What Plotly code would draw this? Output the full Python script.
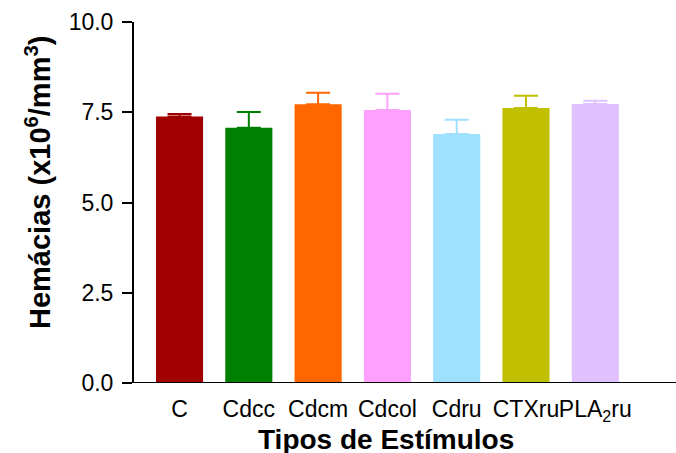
import plotly.graph_objects as go

categories = ["C", "Cdcc", "Cdcm", "Cdcol", "Cdru", "CTXru", "PLA<sub>2</sub>ru"]
means = [7.38, 7.07, 7.72, 7.56, 6.90, 7.62, 7.73]
sem = [0.07, 0.44, 0.32, 0.45, 0.39, 0.34, 0.09]
colors = ["#A00000", "#008000", "#FF6600", "#FFA0FF", "#A0E0FF", "#C0C000", "#E0C0FF"]
y_ticks = [0, 2.5, 5, 7.5, 10]
y_tick_text = ["0.0", "2.5", "5.0", "7.5", "10.0"]

W, H = 676, 453
ML, MR, MT, MB = 134, 0, 22, 70
FONT = "Liberation Sans, Arial, sans-serif"

fig = go.Figure()
for cat, m, e, c in zip(categories, means, sem, colors):
    fig.add_trace(go.Bar(
        x=[cat], y=[m], marker=dict(color=c, line=dict(width=0)),
        error_y=dict(type="data", array=[e], arrayminus=[0], symmetric=False,
                     color=c, thickness=2, width=12),
        showlegend=False,
    ))

plot_w = W - ML - MR
fig.update_layout(
    width=W, height=H,
    margin=dict(l=ML, r=MR, t=MT, b=MB),
    paper_bgcolor="white", plot_bgcolor="white",
    bargap=0.32,
    font=dict(family=FONT, color="black", size=23),
    xaxis=dict(
        type="category", categoryorder="array", categoryarray=categories,
        range=[-0.657, 7.165], showline=False, showgrid=False, zeroline=False,
        ticks="", tickfont=dict(size=23, family=FONT), tickangle=0,
        ticklabelstandoff=10, automargin=False,
    ),
    yaxis=dict(
        range=[0, 10], tickvals=y_ticks, ticktext=y_tick_text,
        showline=True, linecolor="black", linewidth=2,
        ticks="outside", ticklen=10, tickwidth=2, tickcolor="black",
        showgrid=False, zeroline=False, tickfont=dict(size=23, family=FONT),
        ticklabelstandoff=4, automargin=False,
    ),
)

# x-axis baseline extending slightly left of the y-axis
fig.add_shape(type="line", xref="paper", yref="y",
              x0=-10 / plot_w, x1=1, y0=0, y1=0,
              line=dict(color="black", width=2))

fig.add_annotation(text="<b>Tipos de Estímulos</b>", xref="paper", yref="paper",
                   x=(386 - ML) / plot_w, y=-(439 - (H - MB)) / (H - MT - MB),
                   showarrow=False, xanchor="center", yanchor="middle",
                   font=dict(size=28, family=FONT))
fig.add_annotation(text="<b>Hemácias (x10<sup>6</sup>/mm<sup>3</sup>)</b>",
                   xref="paper", yref="paper",
                   x=-(ML - 38) / plot_w, y=((H - MB) - 183) / (H - MT - MB),
                   textangle=-90, showarrow=False, xanchor="center", yanchor="middle",
                   font=dict(size=29, family=FONT))

fig.write_html("out.html")
